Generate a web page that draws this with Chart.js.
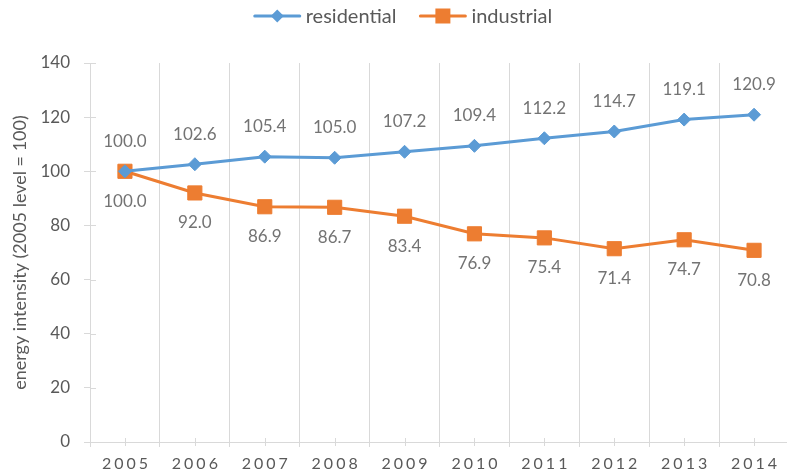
<!DOCTYPE html>
<html><head><meta charset="utf-8">
<script src="https://cdn.jsdelivr.net/npm/chart.js@4/dist/chart.umd.min.js"></script>
<style>
html,body{margin:0;padding:0;overflow:hidden;background:#fff;width:787px;height:474px}
canvas{display:block}
</style></head>
<body><canvas id="c" width="800" height="474"></canvas>
<script>
const years = ['2005','2006','2007','2008','2009','2010','2011','2012','2013','2014'];
const residential = [100.0, 102.6, 105.4, 105.0, 107.2, 109.4, 112.2, 114.7, 119.1, 120.9];
const industrial = [100.0, 92.0, 86.9, 86.7, 83.4, 76.9, 75.4, 71.4, 74.7, 70.8];
const yMin = 0, yMax = 140, yStep = 20;
const yTitle = 'energy intensity (2005 level = 100)';

const FONT = 'Lato';
const GRID = '#d9d9d9';
const TXT = '#595959';
const LBL = '#737373';

const labelPlugin = {
  id: 'valueLabels',
  afterDatasetsDraw(chart) {
    const ctx = chart.ctx;
    ctx.save();
    ctx.font = '17px ' + FONT;
    ctx.fillStyle = LBL;
    ctx.textAlign = 'center';
    ctx.textBaseline = 'middle';
    chart.data.datasets.forEach((ds, di) => {
      const meta = chart.getDatasetMeta(di);
      const off = ds.labelOffset;
      meta.data.forEach((el, i) => {
        ctx.fillText(ds.data[i].toFixed(1), el.x, el.y + off);
      });
    });
    ctx.restore();
  }
};

const axisExtras = {
  id: 'axisExtras',
  beforeDraw(chart) {
    const xs = chart.scales.x;
    if (!xs._lsWrapped) {
      const orig = xs.drawLabels;
      xs.drawLabels = function(area) {
        const c = this.ctx;
        c.save();
        c.letterSpacing = '3px';
        c.translate(1.5, 0);
        orig.call(this, area);
        c.restore();
      };
      xs._lsWrapped = true;
    }
  },
  afterDraw(chart) {
    const ctx = chart.ctx;
    const xs = chart.scales.x, ys = chart.scales.y;
    ctx.save();
    ctx.strokeStyle = GRID;
    ctx.lineWidth = 1;
    ctx.beginPath();
    xs.ticks.forEach((t, i) => {
      const x = Math.round(xs.getPixelForTick(i)) + 0.5;
      ctx.moveTo(x, xs.top - 4);
      ctx.lineTo(x, xs.top + 4);
    });
    ys.ticks.forEach((t, i) => {
      const y = Math.round(ys.getPixelForTick(i)) + 0.5;
      ctx.moveTo(ys.right, y);
      ctx.lineTo(ys.right + 6, y);
    });
    ctx.stroke();
    ctx.restore();
  }
};

const legendPlugin = {
  id: 'customLegend',
  afterDraw(chart) {
    const ctx = chart.ctx;
    ctx.save();
    ctx.font = '20px ' + FONT;
    ctx.textBaseline = 'middle';
    const lineW = 47, gapT = 5, gapItems = 23, y = 16;
    const items = chart.data.datasets.map(ds => ({ds, w: lineW + gapT + ctx.measureText(ds.label).width}));
    const total = items.reduce((a, it) => a + it.w, 0) + gapItems * (items.length - 1);
    let x = 403 - total / 2;
    items.forEach(it => {
      const ds = it.ds;
      ctx.strokeStyle = ds.borderColor;
      ctx.lineWidth = 3;
      ctx.lineCap = 'round';
      ctx.beginPath();
      ctx.moveTo(x + 1, y); ctx.lineTo(x + lineW - 1, y);
      ctx.stroke();
      const cx = x + lineW / 2;
      ctx.fillStyle = ds.backgroundColor;
      ctx.beginPath();
      if (ds.pointStyle === 'rectRot') {
        const r = 6.5;
        ctx.moveTo(cx, y - r); ctx.lineTo(cx + r, y); ctx.lineTo(cx, y + r); ctx.lineTo(cx - r, y); ctx.closePath();
      } else {
        const h = 7.5;
        ctx.rect(cx - h, y - h, 2 * h, 2 * h);
      }
      ctx.fill();
      ctx.fillStyle = TXT;
      ctx.textAlign = 'left';
      ctx.fillText(ds.label, x + lineW + gapT, y + 1);
      x += it.w + gapItems;
    });
    ctx.restore();
  }
};

new Chart(document.getElementById('c'), {
  type: 'line',
  data: {
    labels: years,
    datasets: [
      {
        label: 'residential', data: residential,
        borderColor: '#5b9bd5', backgroundColor: '#5b9bd5',
        borderWidth: 3, tension: 0,
        pointStyle: 'rectRot', pointRadius: 6.5, pointBorderWidth: 1,
        pointHoverRadius: 6.5, labelOffset: -30
      },
      {
        label: 'industrial', data: industrial,
        borderColor: '#ed7d31', backgroundColor: '#ed7d31',
        borderWidth: 3, tension: 0,
        pointStyle: 'rect', pointRadius: 10, pointBorderWidth: 1,
        pointHoverRadius: 10, labelOffset: 30
      }
    ]
  },
  options: {
    responsive: false,
    animation: false,
    events: [],
    layout: { padding: { top: 63, left: 0, right: 1.5, bottom: 0 } },
    plugins: { legend: { display: false }, tooltip: { enabled: false } },
    scales: {
      x: {
        offset: true,
        grid: { offset: true, color: GRID, lineWidth: 1, tickLength: 5, drawTicks: true },
        border: { color: GRID, width: 1 },
        ticks: { color: TXT, font: { family: FONT, size: 16 }, padding: 7, maxRotation: 0, autoSkip: false },
        afterFit(s) { s.height = 32; }
      },
      y: {
        min: yMin, max: yMax,
        ticks: { stepSize: yStep, color: TXT, font: { family: FONT, size: 17 }, padding: 14 },
        grid: { drawOnChartArea: false, color: GRID, tickLength: 6 },
        border: { color: GRID, width: 1 },
        title: { display: true, text: yTitle, color: TXT, font: { family: FONT, size: 18 }, padding: { top: 9, bottom: 0 } },
        afterFit(s) { s.width = 90; }
      }
    }
  },
  plugins: [labelPlugin, axisExtras, legendPlugin]
});
</script>
</body></html>
